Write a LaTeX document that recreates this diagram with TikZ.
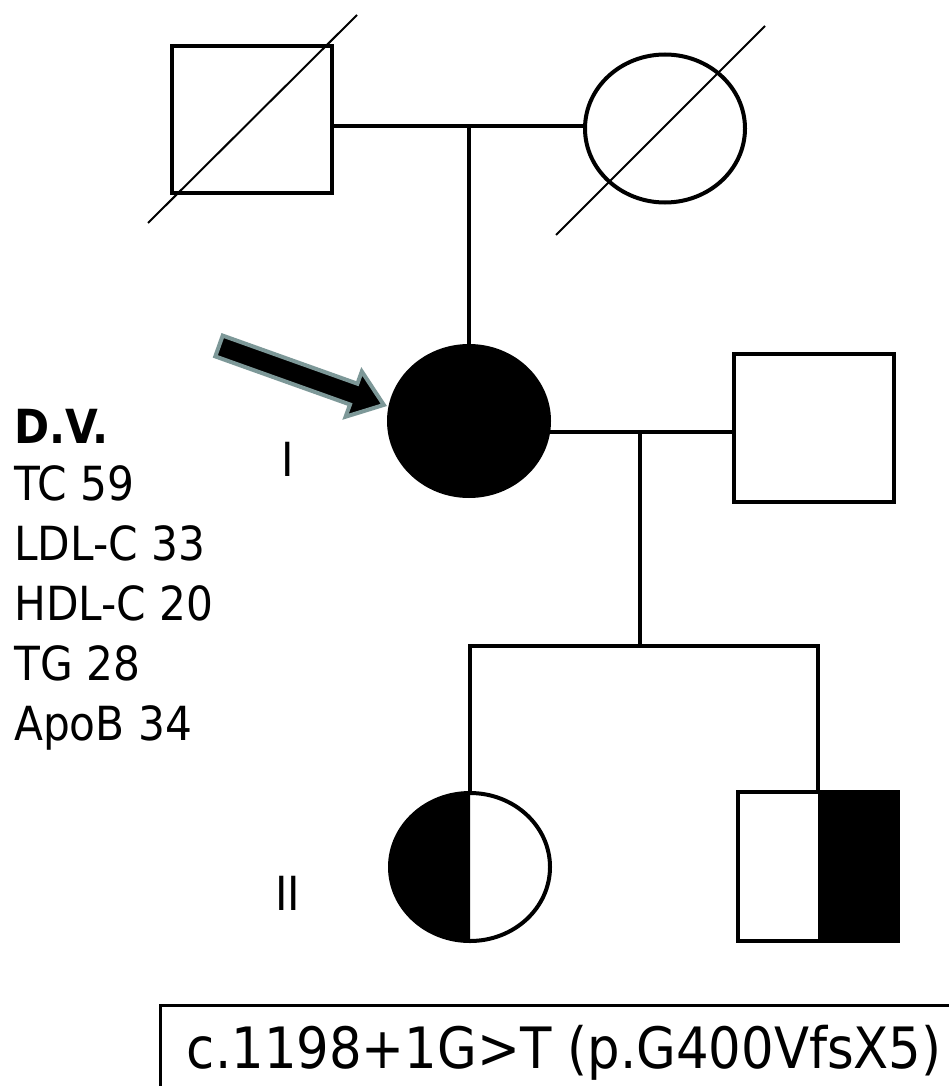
\documentclass[tikz,border=0pt]{standalone}
\usepackage{fontspec}
\setmainfont{DejaVu Sans Condensed}
\usetikzlibrary{shapes.geometric}
\definecolor{arrgray}{RGB}{125,152,152}
\begin{document}
\begin{tikzpicture}[x=1pt,y=-1pt,
  ped/.style={draw=black,line width=4pt,inner sep=0pt,outer sep=0pt},
  sqr/.style={ped,rectangle,minimum width=160pt,minimum height=147pt},
  fem/.style={ped,ellipse,minimum width=160pt,minimum height=148pt},
  link/.style={line width=4pt},
  slash/.style={line width=2pt},
  lbl/.style={font=\fontsize{47}{59}\selectfont,anchor=base west,inner sep=0pt},
  gen/.style={font=\fontsize{47}{59}\selectfont,anchor=base,inner sep=0pt}]
\fill[white] (0,0) rectangle (949,1086);
\useasboundingbox (0,0) rectangle (949,1086);

% fills for half-affected individuals
\fill[black] (818,791.5) rectangle (898,940.5);
\begin{scope}
  \clip (380,780) rectangle (470,960);
  \fill[black] (470,867) ellipse (80pt and 74pt);
\end{scope}

% individuals
\node[sqr] (gf) at (252,120) {};
\node[fem] (gm) at (665,128.5) {};
\node[fem,fill=black,minimum height=150pt] (pro) at (469,421) {};
\node[sqr,minimum height=148pt] (sp) at (814,428) {};
\node[fem] (dau) at (470,867) {};
\node[sqr,minimum width=160pt,minimum height=149pt] (son) at (818,866) {};

% deceased slashes
\coordinate (s1a) at (148,223); \coordinate (s1b) at (357,15);
\coordinate (s2a) at (556,235); \coordinate (s2b) at (765,26);
\draw[slash] (s1a) -- (s1b);
\draw[slash] (s2a) -- (s2b);

% connectors
\coordinate (m1) at (469,126.5);
\coordinate (m2) at (640,432);
\coordinate (sib) at (640,646);
\draw[link] (m1 -| gf.east) -- (m1 -| gm.west);
\draw[link] (m1) -- (pro.north);
\draw[link] (m2 -| pro.east) -- (m2 -| sp.west);
\draw[link] (m2) -- (sib);
\draw[link] (dau.north) -- (dau.north |- sib) -- (son.north |- sib) -- (son.north);

% proband arrow
\draw[arrgray,line width=4pt,fill=black,line join=miter]
  (222.7,335.6) -- (357.4,383.7) -- (361.8,371.5) -- (383.8,404.9)
  -- (345.6,416.7) -- (350.0,404.5) -- (215.3,356.4) -- cycle;

% generation labels
\node[gen] (g1) at (287.5,476) {I};
\node[gen] (g2) at (287.5,910) {II};

% data of proband
\node[lbl] (t0) at (14,443) {\bfseries D.V.};
\node[lbl] (t1) at (14,500) {TC 59};
\node[lbl] (t2) at (14,560) {LDL-C 33};
\node[lbl] (t3) at (14,620) {HDL-C 20};
\node[lbl] (t4) at (14,680) {TG 28};
\node[lbl] (t5) at (14,740) {ApoB 34};

% mutation box
\coordinate (bx1) at (160,1092);
\coordinate (bx2) at (160,1005);
\coordinate (bx3) at (955,1005);
\draw[line width=3pt] (bx1) -- (bx2) -- (bx3);
\node[font=\fontsize{57}{60}\selectfont,anchor=base east,inner sep=0pt] (mut) at (942,1068) {c.1198+1G>T (p.G400VfsX5)};
\end{tikzpicture}
\end{document}
